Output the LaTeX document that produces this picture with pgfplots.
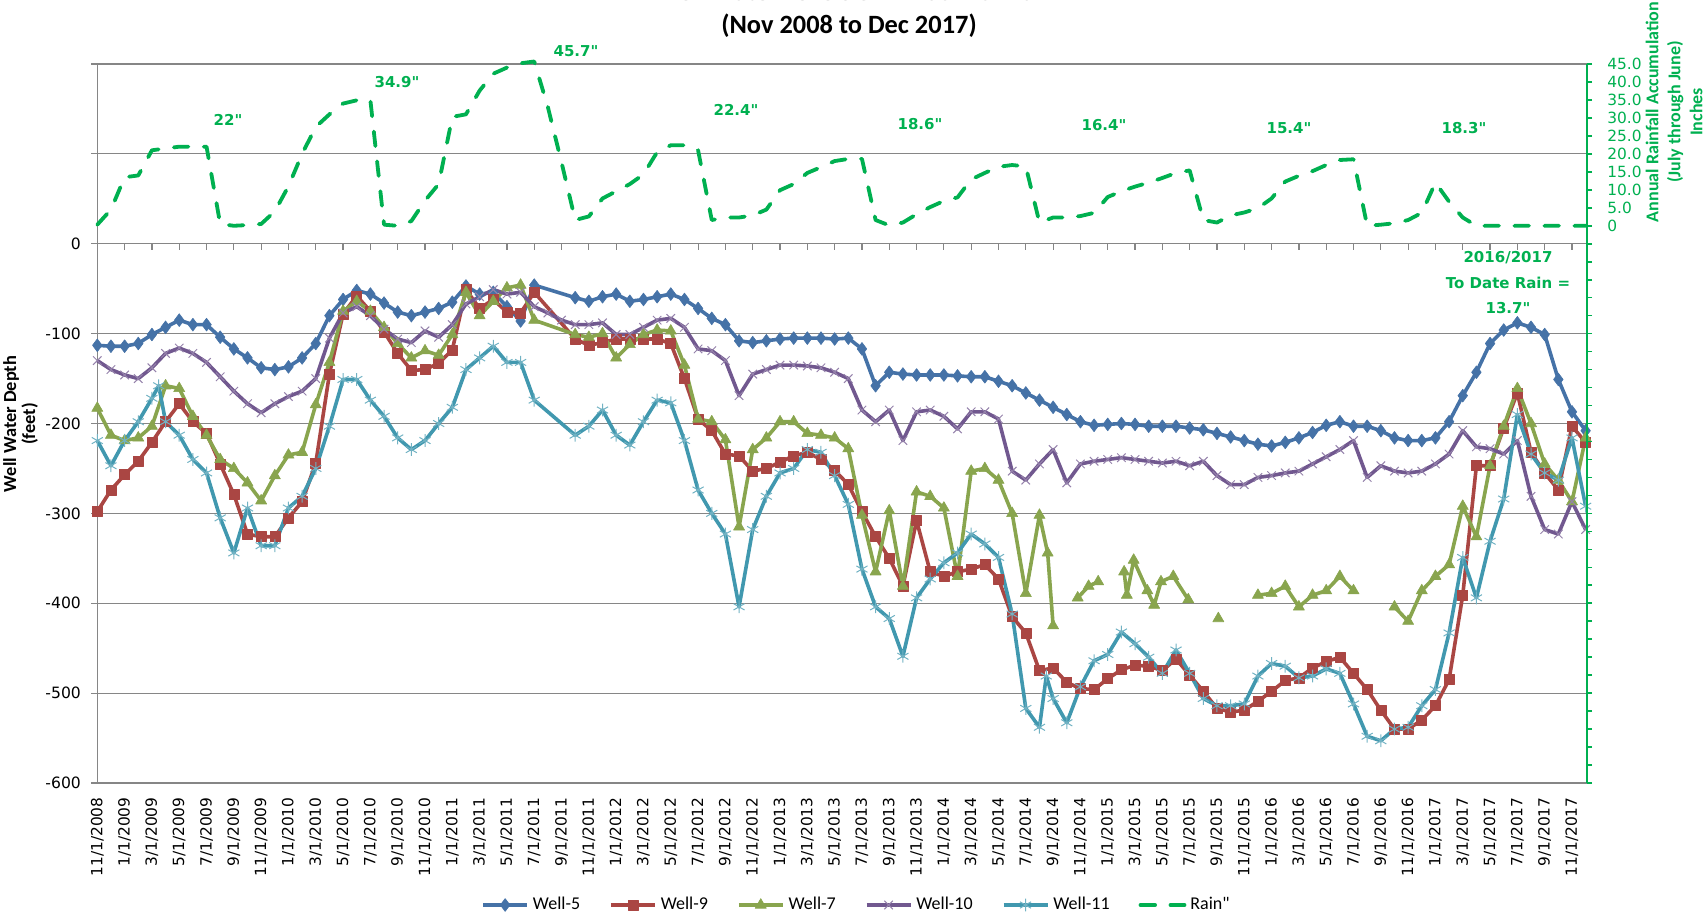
\documentclass[border=0pt]{standalone}
\usepackage{fontspec}
\setmainfont{Carlito}[Ligatures=TeXOff]
\newfontfamily\dv{DejaVu Sans}[Ligatures=TeXOff]
\usepackage{pgfplots}
\usepackage{pgfplotstable}
\pgfplotsset{compat=1.18}
\definecolor{cW5}{HTML}{4572A7}
\definecolor{cW9}{HTML}{AA4643}
\definecolor{cW7}{HTML}{89A54E}
\definecolor{cW10}{HTML}{71588F}
\definecolor{cW11}{HTML}{4198AF}
\definecolor{cRain}{HTML}{00B050}
\definecolor{axgray}{HTML}{868686}

\pgfplotstableread[row sep=\\]{m v\\
0 -113\\1 -114\\2 -114\\3 -111\\4 -101\\5 -93\\6 -85\\7 -90\\8 -90\\9 -104\\10 -117\\11 -127\\12 -138\\13 -140\\14 -137\\15 -127\\16 -111\\17 -80\\18 -62\\19 -52\\20 -56\\21 -66\\22 -76\\23 -80\\24 -76\\25 -72\\26 -65\\27 -47\\28 -56\\29 -54\\30 -70\\31 -86\\32 -46\\35 -60\\36 -64\\37 -59\\38 -56\\39 -64\\40 -62\\41 -59\\42 -56\\43 -62\\44 -72\\45 -83\\46 -90\\47 -108\\48 -110\\49 -108\\50 -106\\51 -105\\52 -105\\53 -105\\54 -106\\55 -105\\56 -117\\57 -158\\58 -143\\59 -145\\60 -146\\61 -146\\62 -146\\63 -147\\64 -148\\65 -148\\66 -153\\67 -158\\68 -166\\69 -174\\70 -182\\71 -190\\72 -198\\73 -202\\74 -201\\75 -200\\76 -201\\77 -203\\78 -203\\79 -203\\80 -205\\81 -207\\82 -211\\83 -215\\84 -219\\85 -223\\86 -225\\87 -221\\88 -216\\89 -210\\90 -202\\91 -198\\92 -203\\93 -203\\94 -208\\95 -216\\96 -219\\97 -219\\98 -216\\99 -198\\100 -169\\101 -143\\102 -111\\103 -96\\104 -88\\105 -93\\106 -101\\107 -151\\108 -187\\109 -208\\
}\wellfive

\pgfplotstableread[row sep=\\]{m v\\
0 -298\\1 -274\\2 -257\\3 -242\\4 -221\\5 -198\\6 -178\\7 -198\\8 -211\\9 -245\\10 -279\\11 -323\\12 -326\\13 -326\\14 -305\\15 -287\\16 -244\\17 -145\\18 -78\\19 -58\\20 -75\\21 -98\\22 -122\\23 -141\\24 -140\\25 -133\\26 -118\\27 -51\\28 -72\\29 -62\\30 -76\\31 -77\\32 -54\\35 -106\\36 -113\\37 -110\\38 -106\\39 -106\\40 -106\\41 -106\\42 -111\\43 -150\\44 -195\\45 -208\\46 -234\\47 -236\\48 -253\\49 -250\\50 -243\\51 -236\\52 -232\\53 -240\\54 -252\\55 -268\\56 -298\\57 -326\\58 -350\\59 -381\\60 -308\\61 -365\\62 -370\\63 -365\\64 -362\\65 -357\\66 -373\\67 -415\\68 -433\\69 -475\\70 -472\\71 -488\\72 -495\\73 -496\\74 -484\\75 -474\\76 -469\\77 -470\\78 -475\\79 -462\\80 -480\\81 -498\\82 -517\\83 -521\\84 -519\\85 -509\\86 -498\\87 -486\\88 -483\\89 -472\\90 -465\\91 -460\\92 -478\\93 -496\\94 -519\\95 -540\\96 -540\\97 -530\\98 -514\\99 -485\\100 -391\\101 -247\\102 -247\\103 -205\\104 -166\\105 -232\\106 -255\\107 -274\\108 -203\\109 -221\\
}\wellnine

\pgfplotstableread[row sep=\\]{m v\\
0 -183\\1 -213\\2 -219\\3 -216\\4 -203\\5 -158\\6 -161\\7 -192\\8 -213\\9 -240\\10 -250\\11 -266\\12 -286\\13 -258\\14 -235\\15 -232\\16 -179\\17 -132\\18 -75\\19 -64\\20 -75\\21 -93\\22 -111\\23 -127\\24 -119\\25 -124\\26 -101\\27 -54\\28 -80\\29 -64\\30 -49\\31 -46\\32 -85\\35 -101\\36 -104\\37 -100\\38 -127\\39 -112\\40 -101\\41 -96\\42 -97\\43 -135\\44 -195\\45 -198\\46 -218\\47 -315\\48 -229\\49 -216\\50 -198\\51 -198\\52 -211\\53 -213\\54 -216\\55 -228\\56 -302\\57 -365\\58 -297\\59 -381\\60 -276\\61 -281\\62 -294\\63 -370\\64 -253\\65 -250\\66 -263\\67 -300\\68 -389\\69 -302\\69.6 -344\\70 -425\\70.5 nan\\71.8 -394\\72.6 -381\\73.3 -376\\74 nan\\75.2 -365\\75.4 -391\\75.9 -352\\76.9 -386\\77.4 -402\\77.9 -376\\78.8 -370\\79.9 -396\\81 nan\\82.1 -417\\83 nan\\85 -391\\86 -389\\87 -381\\88 -404\\89 -391\\90 -386\\91 -370\\92 -386\\93 nan\\95 -404\\96 -420\\97 -386\\98 -370\\99 -357\\100 -292\\101 -326\\102 -247\\103 -203\\104 -161\\105 -200\\106 -245\\107 -263\\108 -287\\109 -216\\
}\wellseven

\pgfplotstableread[row sep=\\]{m v\\
0 -130\\1 -140\\2 -146\\3 -150\\4 -138\\5 -122\\6 -116\\7 -122\\8 -132\\9 -148\\10 -164\\11 -178\\12 -188\\13 -178\\14 -170\\15 -164\\16 -150\\17 -105\\18 -77\\19 -70\\20 -80\\21 -95\\22 -106\\23 -110\\24 -97\\25 -104\\26 -90\\27 -67\\28 -59\\29 -51\\30 -56\\31 -54\\32 -70\\33 -77\\34 -85\\35 -90\\36 -90\\37 -88\\38 -101\\39 -101\\40 -93\\41 -85\\42 -83\\43 -93\\44 -117\\45 -119\\46 -130\\47 -169\\48 -145\\49 -140\\50 -135\\51 -135\\52 -136\\53 -138\\54 -143\\55 -150\\56 -185\\57 -198\\58 -185\\59 -219\\60 -187\\61 -185\\62 -192\\63 -206\\64 -187\\65 -187\\66 -195\\67 -253\\68 -263\\69 -245\\70 -229\\71 -266\\72 -245\\73 -242\\74 -240\\75 -238\\76 -240\\77 -242\\78 -244\\79 -242\\80 -247\\81 -242\\82 -258\\83 -268\\84 -268\\85 -260\\86 -258\\87 -255\\88 -253\\89 -245\\90 -237\\91 -229\\92 -219\\93 -260\\94 -247\\95 -253\\96 -255\\97 -253\\98 -245\\99 -234\\100 -208\\101 -226\\102 -228\\103 -234\\104 -219\\105 -281\\106 -318\\107 -323\\108 -287\\109 -318\\
}\wellten

\pgfplotstableread[row sep=\\]{m v\\
0 -219\\1 -247\\2 -219\\3 -198\\4 -172\\4.5 -158\\5 -198\\6 -213\\7 -240\\8 -255\\9 -305\\10 -344\\11 -294\\12 -336\\13 -336\\14 -294\\15 -281\\16 -250\\17 -203\\18 -151\\19 -151\\20 -174\\21 -192\\22 -216\\23 -229\\24 -219\\25 -200\\26 -182\\27 -140\\28 -127\\29 -114\\30 -132\\31 -132\\32 -174\\35 -213\\36 -203\\37 -185\\38 -213\\39 -224\\40 -198\\41 -174\\42 -177\\43 -219\\44 -274\\45 -300\\46 -323\\47 -404\\48 -318\\49 -281\\50 -255\\51 -250\\52 -229\\53 -232\\54 -258\\55 -290\\56 -362\\57 -404\\58 -417\\59 -459\\60 -394\\61 -373\\62 -355\\63 -344\\64 -323\\65 -334\\66 -349\\67 -412\\68 -517\\69 -538\\69.5 -481\\70 -506\\71 -533\\72 -493\\73 -464\\74 -457\\75 -432\\76 -445\\77 -460\\78 -478\\79 -452\\80 -478\\81 -506\\82 -514\\83 -514\\84 -512\\85 -481\\86 -467\\87 -470\\88 -483\\89 -481\\90 -473\\91 -478\\92 -512\\93 -548\\94 -553\\95 -540\\96 -538\\97 -514\\98 -496\\99 -433\\100 -349\\101 -394\\102 -331\\103 -284\\104 -190\\105 -234\\106 -255\\107 -263\\108 -216\\109 -292\\
}\welleleven

\pgfplotstableread[row sep=\\]{m v\\
0 0.3\\1 4.5\\2 13.5\\3 14\\4 21\\5 21.5\\6 22\\7 22\\8 22\\9 0.5\\10 0\\11 0.2\\12 0.5\\13 4\\14 11\\15 20\\16 27.5\\17 31\\18 34\\19 34.9\\20 34.9\\21 0.3\\22 0\\23 1.3\\24 7\\25 11.6\\26 30.3\\27 31\\28 37.6\\29 42.3\\30 44\\31 45.2\\32 45.7\\33 33\\34 17.6\\35 1.6\\36 2.6\\37 7.6\\38 9.6\\39 11.6\\40 14.3\\41 20.5\\42 22.4\\43 22.4\\44 21\\45 1.6\\46 2.3\\47 2.3\\48 2.9\\49 4.5\\50 9.9\\51 11.6\\52 14.7\\53 16.3\\54 18\\55 18.6\\56 18.6\\57 1.6\\58 0.1\\59 0.9\\60 3.2\\61 5.2\\62 6.9\\63 7.9\\64 12.9\\65 14.7\\66 16.4\\67 16.9\\68 16.5\\69 0.9\\70 2.3\\71 2.3\\72 2.7\\73 3.6\\74 8\\75 9.6\\76 10.9\\77 12\\78 13.3\\79 14.7\\80 15.4\\81 1.6\\82 0.9\\83 2.9\\84 3.7\\85 4.9\\86 7.6\\87 12.3\\88 13.9\\89 15.2\\90 16.9\\91 18.3\\92 18.5\\93 0\\94 0.3\\95 0.7\\96 1.6\\97 3.6\\98 12\\99 6.7\\100 2.3\\101 0\\102 0\\103 0\\104 0\\105 0\\106 0\\107 0\\108 0\\109 0\\
}\rain

\begin{document}
\begin{tikzpicture}
\path[use as bounding box] (0pt,0pt) rectangle (852.5pt,459pt);
\begin{axis}[
  at={(48.65pt,67.5pt)}, anchor=south west,
  scale only axis, width=744.85pt, height=359.5pt,
  xmin=0, xmax=109.1, ymin=-600, ymax=200,
  axis x line*=bottom, axis y line*=left,
  axis line style={axgray, line width=0.6pt, -},
  xtick={0,2,...,108},
  xticklabels={11/1/2008,1/1/2009,3/1/2009,5/1/2009,7/1/2009,9/1/2009,11/1/2009,1/1/2010,3/1/2010,5/1/2010,7/1/2010,9/1/2010,11/1/2010,1/1/2011,3/1/2011,5/1/2011,7/1/2011,9/1/2011,11/1/2011,1/1/2012,3/1/2012,5/1/2012,7/1/2012,9/1/2012,11/1/2012,1/1/2013,3/1/2013,5/1/2013,7/1/2013,9/1/2013,11/1/2013,1/1/2014,3/1/2014,5/1/2014,7/1/2014,9/1/2014,11/1/2014,1/1/2015,3/1/2015,5/1/2015,7/1/2015,9/1/2015,11/1/2015,1/1/2016,3/1/2016,5/1/2016,7/1/2016,9/1/2016,11/1/2016,1/1/2017,3/1/2017,5/1/2017,7/1/2017,9/1/2017,11/1/2017},
  major x tick style={draw=none},
  xticklabel style={rotate=90, anchor=east, font=\dv\fontsize{7.7}{8}\selectfont, inner sep=0pt},
  xticklabel shift=4pt,
  ytick={-600,-500,...,200},
  yticklabels={-600,-500,-400,-300,-200,-100,0,{},{}},
  tick align=outside, major tick length=3pt,
  tick style={axgray, line width=0.6pt},
  yticklabel style={font=\dv\fontsize{7.8}{8}\selectfont, inner sep=0pt},
  yticklabel shift=5pt,
  ymajorgrids, grid style={axgray, line width=0.6pt},
  clip=false,
  unbounded coords=jump,
  every axis plot/.append style={line join=round},
  legend columns=6,
  legend style={at={(0.5103,-0.1697)}, anchor=center, draw=none, fill=none,
    font=\fontsize{9}{10}\selectfont,
    /tikz/every even column/.append style={column sep=12.5pt}},
  legend image code/.code={\draw[mark repeat=2, mark phase=2, #1] plot coordinates {(0pt,0pt) (11pt,0pt) (22pt,0pt)};},
]
\pgfplotsinvokeforeach{0,2,...,108}{\draw[axgray, line width=0.6pt] (axis cs:#1,0) -- ([yshift=-3pt]axis cs:#1,0);}
\addplot[cW5, line width=1.8pt, mark=diamond*, mark size=3.2pt, mark options={solid, line width=0.3pt}] table[x=m,y=v]{\wellfive};
\addlegendentry{Well-5}
\addplot[cW9, line width=1.8pt, mark=square*, mark size=2.5pt, mark options={solid, line width=0.3pt}] table[x=m,y=v]{\wellnine};
\addlegendentry{Well-9}
\addplot[cW7, line width=1.8pt, mark=triangle*, mark size=3.2pt, mark options={solid, line width=0.3pt}] table[x=m,y=v]{\wellseven};
\addlegendentry{Well-7}
\addplot[cW10, line width=1.8pt, mark=x, mark size=3pt, mark options={solid, line width=0.5pt, draw=cW10!75!white}] table[x=m,y=v]{\wellten};
\addlegendentry{Well-10}
\addplot[cW11, line width=1.8pt, mark=asterisk, mark size=3.2pt, mark options={solid, line width=0.5pt, draw=cW11!75!white}] table[x=m,y=v]{\welleleven};
\addlegendentry{Well-11}
\addlegendimage{cRain, line width=1.9pt, dash pattern=on 7.3pt off 7.7pt, line cap=round}
\addlegendentry{Rain"}
\end{axis}
\begin{axis}[
  at={(48.65pt,67.5pt)}, anchor=south west,
  scale only axis, width=744.85pt, height=359.5pt,
  xmin=0, xmax=109.1, ymin=-155, ymax=45,
  axis x line=none, axis y line*=right,
  axis line style={cRain, line width=0.8pt, -},
  ytick={0,5,...,45},
  yticklabels={0,5.0,10.0,15.0,20.0,25.0,30.0,35.0,40.0,45.0},
  extra y ticks={-155,-150,...,-5},
  extra y tick labels={},
  tick align=outside, major tick length=2.5pt,
  tick style={cRain, line width=0.8pt},
  yticklabel style={font=\dv\fontsize{7.7}{8}\selectfont, text=cRain, inner sep=0pt, anchor=west},
  yticklabel shift=7.5pt,
  clip=false,
]
\addplot[cRain, line width=1.9pt, dash pattern=on 7.3pt off 7.7pt, line cap=round, line join=round] table[x=m,y=v]{\rain};
\end{axis}
% titles
\node[font=\bfseries\fontsize{13.2}{15}\selectfont, anchor=base, text=black!55] at (426pt,458.6pt) {Well Water Levels \& Annual Rainfall};
\node[font=\bfseries\fontsize{13.2}{15}\selectfont, anchor=base] at (424.5pt,442pt) {(Nov 2008 to Dec 2017)};
% axis titles
\node[rotate=90, align=center, font=\bfseries\fontsize{9.2}{9.5}\selectfont] at (10.25pt,247pt) {Well Water Depth\\(feet)};
\node[rotate=90, align=center, font=\bfseries\fontsize{9}{11}\selectfont, text=cRain] at (837pt,403pt) {Annual Rainfall Accumulation\\(July through June)\\Inches};
% rain annotations
\begin{scope}[every node/.style={font=\dv\bfseries\fontsize{7.5}{9}\selectfont, text=cRain, align=center}]
\node at (114pt,399pt) {22"};
\node at (198.5pt,418pt) {34.9"};
\node at (288pt,433.5pt) {45.7"};
\node at (368pt,404pt) {22.4"};
\node at (460pt,397pt) {18.6"};
\node at (552pt,396.5pt) {16.4"};
\node at (644.5pt,395pt) {15.4"};
\node at (732pt,395pt) {18.3"};
\node at (754pt,330pt) {2016/2017};
\node at (754pt,317.5pt) {To Date Rain =};
\node at (754pt,305pt) {13.7"};
\end{scope}
\end{tikzpicture}
\end{document}
